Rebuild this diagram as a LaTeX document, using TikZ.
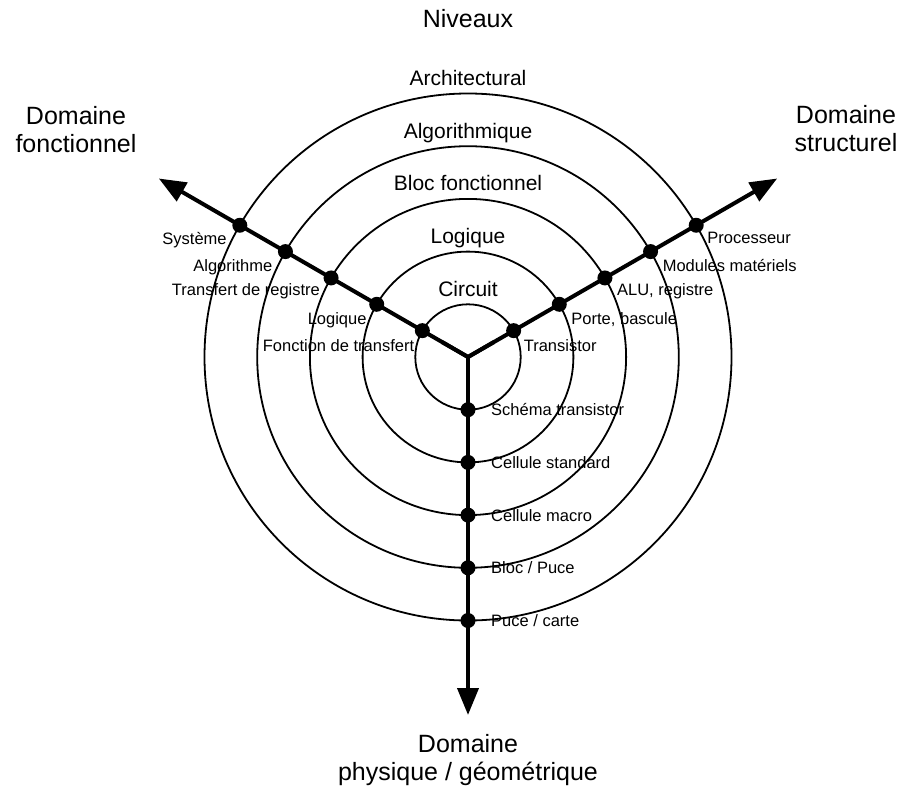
\documentclass[tikz,border=0pt]{standalone}
\usepackage{fontspec}
\setmainfont{Liberation Sans}
\usetikzlibrary{arrows.meta,calc}
\begin{document}
\begin{tikzpicture}[x=1pt,y=1pt,
  ring/.style={line width=1.8pt},
  axisline/.style={line width=4pt},
  tip/.style={-{Triangle[length=27pt,width=21pt]}},
  dot/.style={circle,fill=black,inner sep=0pt,minimum size=15pt},
  small/.style={font=\fontsize{16.5}{19}\selectfont,inner sep=0pt},
  level/.style={font=\fontsize{21}{24}\selectfont,inner sep=0pt,anchor=base},
  domtitle/.style={font=\fontsize{25}{28}\selectfont,align=center,inner sep=0pt}]
\useasboundingbox (0,0) rectangle (904,-789);
\coordinate (C) at (468,-357);
\foreach \i in {1,...,5} \draw[ring] (C) circle ({52.7*\i});
\coordinate (L) at ($(C)+(150:357)$);
\coordinate (R) at ($(C)+(30:357)$);
\coordinate (B) at ($(C)+(270:358)$);
\coordinate (Ct) at ($(C)+(0,2)$);
\draw[axisline,tip,line join=miter] (C) -- (L);
\draw[axisline,tip,line join=miter] (C) -- (R);
\draw[axisline,tip] (Ct) -- (B);
\draw[axisline,line join=miter,miter limit=10] ($(C)+(150:30)$) -- (C) -- ($(C)+(30:30)$);
% dots
\foreach \i in {1,...,5}{
  \node[dot] (l\i) at ($(C)+(150:{52.7*\i})$) {};
  \node[dot] (r\i) at ($(C)+(30:{52.7*\i})$) {};
  \node[dot] (b\i) at ($(C)+(270:{52.7*\i})$) {};
  \coordinate (t\i) at ($(C)+(0,{52.7*\i+8})$);
}
% level labels
\node[level] (lev1) at (t1) {Circuit};
\node[level] (lev2) at (t2) {Logique};
\node[level] (lev3) at (t3) {Bloc fonctionnel};
\node[level] (lev4) at (t4) {Algorithmique};
\node[level] (lev5) at (t5) {Architectural};
% left labels
\node[small,anchor=base east] (fl1) at ($(l1)+(-8,-21)$) {Fonction de transfert};
\node[small,anchor=base east] (fl2) at ($(l2)+(-10,-20)$) {Logique};
\node[small,anchor=base east] (fl3) at ($(l3)+(-11,-18)$) {Transfert de registre};
\node[small,anchor=base east] (fl4) at ($(l4)+(-13,-20)$) {Algorithme};
\node[small,anchor=base east] (fl5) at ($(l5)+(-13,-19)$) {Système};
% right labels
\node[small,anchor=base west] (sl1) at ($(r1)+(10,-21)$) {Transistor};
\node[small,anchor=base west] (sl2) at ($(r2)+(12,-20)$) {Porte, bascule};
\node[small,anchor=base west] (sl3) at ($(r3)+(12,-18)$) {ALU, registre};
\node[small,anchor=base west] (sl4) at ($(r4)+(12,-20)$) {Modules matériels};
\node[small,anchor=base west] (sl5) at ($(r5)+(11,-18)$) {Processeur};
% bottom labels
\node[small,anchor=base west] (pl1) at ($(b1)+(23,-6)$) {Schéma transistor};
\node[small,anchor=base west] (pl2) at ($(b2)+(23,-6)$) {Cellule standard};
\node[small,anchor=base west] (pl3) at ($(b3)+(23,-6)$) {Cellule macro};
\node[small,anchor=base west] (pl4) at ($(b4)+(23,-6)$) {Bloc / Puce};
\node[small,anchor=base west] (pl5) at ($(b5)+(23,-6)$) {Puce / carte};
% titles
\node[domtitle,anchor=base] (niv) at (468,-28) {Niveaux};
\node[domtitle,anchor=north] (dfon) at (76,-106) {Domaine\\fonctionnel};
\node[domtitle,anchor=north] (dstr) at (846,-105) {Domaine\\structurel};
\node[domtitle,anchor=north] (dphy) at (468,-734) {Domaine\\physique / géométrique};
\end{tikzpicture}
\end{document}
